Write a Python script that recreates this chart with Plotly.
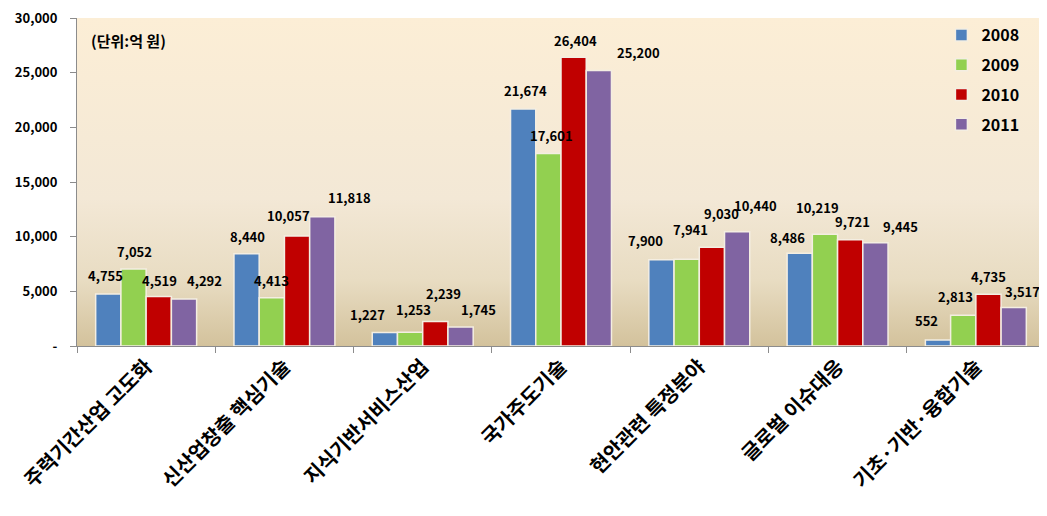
import plotly.graph_objects as go
import base64

categories = ["주력기간산업 고도화", "신산업창출 핵심기술", "지식기반서비스산업", "국가주도기술",
              "현안관련 특정분야", "글로벌 이슈대응", "기초·기반·융합기술"]
years = ["2008", "2009", "2010", "2011"]
v2008 = [4755, 8440, 1227, 21674, 7900, 8486, 552]
v2009 = [7052, 4413, 1253, 17601, 7941, 10219, 2813]
v2010 = [4519, 10057, 2239, 26404, 9030, 9721, 4735]
v2011 = [4292, 11818, 1745, 25200, 10440, 9445, 3517]
series = [v2008, v2009, v2010, v2011]
colors = ["#4F81BD", "#92D050", "#C00000", "#8064A2"]
ytickvals = [0, 5000, 10000, 15000, 20000, 25000, 30000]
yticktext = ["-", "5,000", "10,000", "15,000", "20,000", "25,000", "30,000"]
unit_note = "(단위:억 원)"

# label nudges (px) used by the original chart's label placement: (dx, dy) per year per category
label_nudge = [
    [(-3, 1), (1, 0), (-17, 1), (2, 1), (-16, 2), (-12, -2), (-12, 2)],
    [(1, 0), (0, 0), (3, 5), (3, 1), (4, 12), (-7, 9), (-8, 1)],
    [(1, -1), (-9, 3), (8, 11), (2, -1), (10, 16), (2, 1), (0, 0)],
    [(20, 1), (27, 2), (18, 0), (40, 0), (18, 9), (25, -1), (9, -1)],
]

FONT = "Noto Sans CJK KR"
BARGAP = 0.27

fig = go.Figure()
for name, vals, col in zip(years, series, colors):
    fig.add_trace(go.Bar(
        x=categories, y=vals, name=name,
        marker=dict(color=col, line=dict(color="#F4EEE2", width=1.5)),
        legendgroup=name,
    ))

annotations = []
for j, vals in enumerate(series):
    off = (j - 1.5) * (1 - BARGAP) / len(series)
    for i, v in enumerate(vals):
        dx, dy = label_nudge[j][i]
        annotations.append(dict(
            x=i + off, y=v, xref="x", yref="y", text=f"{v:,}", showarrow=False,
            xanchor="center", yanchor="bottom", xshift=dx, yshift=6 + dy,
            font=dict(family=FONT, size=13, color="black", weight="bold"),
        ))

annotations.append(dict(text=unit_note, xref="paper", yref="paper", x=0.012, y=0.93,
                        xanchor="left", yanchor="middle", showarrow=False,
                        font=dict(family=FONT, size=15, weight="bold")))

svg = ('<svg xmlns="http://www.w3.org/2000/svg" width="100" height="100" preserveAspectRatio="none">'
       '<defs><linearGradient id="g" x1="0" y1="0" x2="0" y2="1">'
       '<stop offset="0" stop-color="#FCEED6"/><stop offset="0.55" stop-color="#F3E8D6"/>'
       '<stop offset="0.8" stop-color="#E8DCC2"/><stop offset="1" stop-color="#D3C29C"/>'
       '</linearGradient></defs><rect width="100" height="100" fill="url(#g)"/></svg>')
src = "data:image/svg+xml;base64," + base64.b64encode(svg.encode()).decode()

fig.update_layout(
    width=1039, height=508,
    margin=dict(l=69, r=2, t=10, b=170),
    paper_bgcolor="white", plot_bgcolor="rgba(0,0,0,0)",
    barmode="group", bargap=BARGAP, bargroupgap=0,
    font=dict(family=FONT, color="black"),
    images=[dict(source=src, xref="paper", yref="paper", x=0, y=1, sizex=1, sizey=1,
                 sizing="stretch", layer="below", xanchor="left", yanchor="top")],
    legend=dict(x=0.893, y=1.0, xanchor="left", yanchor="top", bgcolor="rgba(0,0,0,0)",
                font=dict(family=FONT, size=16, weight="bold"), tracegroupgap=6,
                itemwidth=30),
    showlegend=True,
    annotations=annotations,
)
fig.update_yaxes(range=[0, 30000], tickvals=ytickvals, ticktext=yticktext,
                 showgrid=False, zeroline=False, showline=True, linecolor="#8C8C8C",
                 ticks="outside", ticklen=6, tickcolor="#8C8C8C", automargin=False,
                 ticklabelstandoff=10, ticklabeloverflow="allow",
                 tickfont=dict(family=FONT, size=13, weight="bold"))
fig.update_xaxes(showgrid=False, showline=True, linecolor="#8C8C8C", tickson="boundaries",
                 ticks="outside", ticklen=6, tickcolor="#8C8C8C", tickangle=-45,
                 automargin=False, ticklabeloverflow="allow",
                 tickfont=dict(family=FONT, size=20, weight="bold"))

fig.write_html("out.html")
